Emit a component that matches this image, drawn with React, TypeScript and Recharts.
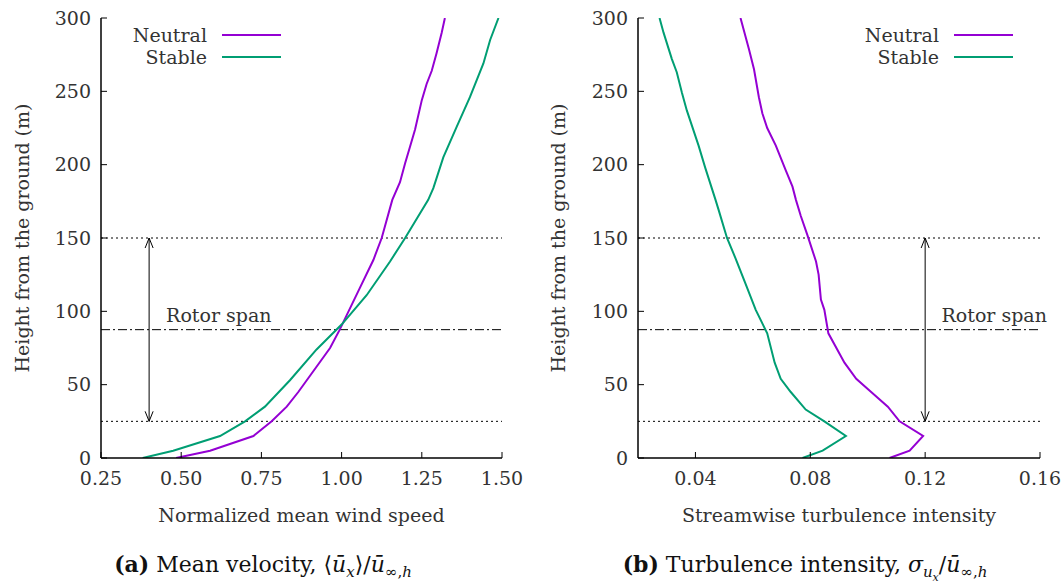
import React from 'react';
import { LineChart, Line, XAxis, YAxis, ReferenceLine, ReferenceDot } from 'recharts';

// mean velocity profiles (normalized by hub-height freestream)
const neutralMeanZ = [0, 5, 15, 25, 35, 45, 75, 87, 116, 135, 150, 176, 188, 201, 212, 224, 244, 255, 264, 276, 290, 300];
const neutralMeanU = [0.484, 0.59, 0.725, 0.782, 0.829, 0.865, 0.964, 0.993, 1.057, 1.099, 1.125, 1.158, 1.182, 1.198, 1.213, 1.229, 1.25, 1.265, 1.281, 1.296, 1.312, 1.322];
const stableMeanZ = [0, 5, 15, 25, 35, 53, 74, 91, 111, 134, 150, 176, 184, 205, 226, 246, 269, 285, 300];
const stableMeanU = [0.38, 0.475, 0.621, 0.699, 0.761, 0.839, 0.922, 1.0, 1.078, 1.151, 1.198, 1.27, 1.286, 1.317, 1.359, 1.4, 1.442, 1.463, 1.489];

// streamwise turbulence intensity profiles
const neutralTiZ = [0, 5, 15, 25, 35, 45, 54, 65, 85, 101, 108, 125, 134, 152, 165, 176, 185, 196, 213, 225, 235, 246, 265, 279, 300];
const neutralTi = [0.1076, 0.1146, 0.1193, 0.1111, 0.107, 0.1012, 0.096, 0.0919, 0.0863, 0.0849, 0.0837, 0.0829, 0.082, 0.079, 0.0767, 0.075, 0.0738, 0.0715, 0.068, 0.065, 0.0633, 0.0621, 0.0604, 0.0586, 0.0557];
const stableTiZ = [0, 5, 15, 25, 33, 45, 54, 65, 85, 101, 119, 136, 150, 169, 176, 198, 213, 237, 249, 263, 272, 290, 300];
const stableTi = [0.0773, 0.0843, 0.0924, 0.0849, 0.0784, 0.0732, 0.0697, 0.0676, 0.065, 0.061, 0.0574, 0.054, 0.051, 0.0481, 0.047, 0.0434, 0.0411, 0.037, 0.0353, 0.0335, 0.0318, 0.0289, 0.0275];

const heightTicks = [0, 50, 100, 150, 200, 250, 300];
const speedTicks = [0.25, 0.5, 0.75, 1.0, 1.25, 1.5];
const tiTicks = [0.04, 0.08, 0.12, 0.16];
const seriesNames = ['Neutral', 'Stable'];

const rotorTop = 150;
const rotorBottom = 25;
const hubHeight = 87.5;
const rotorLabelZ = 97.5;

const NEUTRAL = '#9400d3';
const STABLE = '#009e73';
const FONT = '"DejaVu Serif", "Liberation Serif", serif';
const TEXT = '#333';

function toRows(xs: number[], zs: number[]) {
  return xs.map((x, i) => ({ x, z: zs[i] }));
}

// vertical double-headed arrow spanning the rotor
function ArrowShape(props: any) {
  const { x1, y1, x2, y2 } = props;
  const top = Math.min(y1, y2);
  const bot = Math.max(y1, y2);
  const x = x1;
  return (
    <g stroke="#000" strokeWidth={1} fill="none">
      <line x1={x} y1={top} x2={x2} y2={bot} />
      <polyline points={`${x - 4},${top + 10} ${x},${top} ${x + 4},${top + 10}`} />
      <polyline points={`${x - 4},${bot - 10} ${x},${bot} ${x + 4},${bot - 10}`} />
    </g>
  );
}

function LegendBox({ left }: { left: number }) {
  const colors = [NEUTRAL, STABLE];
  return (
    <div style={{ position: 'absolute', top: 24, left, fontFamily: FONT, fontSize: 19, color: TEXT }}>
      {seriesNames.map((name, i) => (
        <div key={name} style={{ display: 'flex', alignItems: 'center', height: 22 }}>
          <span style={{ width: 100, textAlign: 'right' }}>{name}</span>
          <span style={{ display: 'inline-block', width: 59, height: 2, background: colors[i], marginLeft: 15 }} />
        </div>
      ))}
    </div>
  );
}

const yTitle = (x: number) => (p: any) => {
  const cy = p.viewBox.y + p.viewBox.height / 2;
  return (
    <text x={x} y={cy} transform={`rotate(-90 ${x} ${cy})`} textAnchor="middle" dominantBaseline="central"
      fill={TEXT} fontSize={19} fontFamily={FONT}>
      Height from the ground (m)
    </text>
  );
};

type PanelProps = {
  width: number;
  margin: { top: number; right: number; left: number; bottom: number };
  domain: [number, number];
  ticks: number[];
  xTitle: string;
  yTitleX: number;
  neutral: { x: number; z: number }[];
  stable: { x: number; z: number }[];
  arrowX: number;
  labelX: number;
  fmt: (v: number) => string;
};

function Panel(p: PanelProps) {
  const axisLine = { stroke: '#000', strokeWidth: 1.5 };
  const tickStyle = { fill: TEXT, fontSize: 19, fontFamily: FONT };
  return (
    <LineChart width={p.width} height={540} margin={p.margin}>
      <XAxis xAxisId="b" type="number" dataKey="x" domain={p.domain} ticks={p.ticks} allowDataOverflow
        height={82} tickSize={-6} tickMargin={20} axisLine={axisLine} tickLine={{ stroke: '#000' }}
        tick={tickStyle} tickFormatter={p.fmt}
        label={{ value: p.xTitle, position: 'insideBottom', offset: 18, fill: TEXT, fontSize: 19, fontFamily: FONT }} />
      <XAxis xAxisId="t" orientation="top" type="number" dataKey="x" domain={p.domain} ticks={p.ticks}
        allowDataOverflow height={0} tickSize={-6} axisLine={axisLine} tickLine={{ stroke: '#000' }} tick={() => <g />} />
      <YAxis yAxisId="l" type="number" dataKey="z" domain={[0, 300]} ticks={heightTicks} allowDataOverflow
        width={60} tickSize={-6} tickMargin={16} axisLine={axisLine} tickLine={{ stroke: '#000' }} tick={tickStyle}
        label={{ content: yTitle(p.yTitleX) }} />
      <YAxis yAxisId="r" orientation="right" type="number" dataKey="z" domain={[0, 300]} ticks={heightTicks}
        allowDataOverflow width={0} tickSize={-6} axisLine={axisLine} tickLine={{ stroke: '#000' }} tick={() => <g />} />
      <ReferenceLine xAxisId="b" yAxisId="l" y={rotorTop} stroke="#000" strokeWidth={1} strokeDasharray="2 3" />
      <ReferenceLine xAxisId="b" yAxisId="l" y={rotorBottom} stroke="#000" strokeWidth={1} strokeDasharray="2 3" />
      <ReferenceLine xAxisId="b" yAxisId="l" y={hubHeight} stroke="#000" strokeWidth={1} strokeDasharray="9 3 2 3" />
      <ReferenceLine xAxisId="b" yAxisId="l" segment={[{ x: p.arrowX, y: rotorBottom }, { x: p.arrowX, y: rotorTop }]}
        shape={ArrowShape} />
      <ReferenceDot xAxisId="b" yAxisId="l" x={p.labelX} y={rotorLabelZ} r={0} stroke="none" fill="none"
        label={{ value: 'Rotor span', position: 'right', offset: 0, fill: TEXT, fontSize: 19, fontFamily: FONT }} />
      <Line xAxisId="b" yAxisId="l" data={p.neutral} dataKey="z" name={seriesNames[0]} type="linear" stroke={NEUTRAL}
        strokeWidth={2} dot={false} isAnimationActive={false} />
      <Line xAxisId="b" yAxisId="l" data={p.stable} dataKey="z" name={seriesNames[1]} type="linear" stroke={STABLE}
        strokeWidth={2} dot={false} isAnimationActive={false} />
    </LineChart>
  );
}

export default function App() {
  const cap: React.CSSProperties = {
    position: 'absolute', top: 551, fontFamily: FONT, fontSize: 22, color: '#111', whiteSpace: 'nowrap',
    transform: 'translateX(-50%)',
  };
  return (
    <div style={{ position: 'absolute', left: 0, top: 0, width: 1061, height: 585, background: '#fff', fontFamily: FONT }}>
      <div style={{ position: 'absolute', left: 0, top: 0 }}>
        <Panel width={530} margin={{ top: 18, right: 28, left: 41, bottom: 0 }} domain={[0.25, 1.5]} ticks={speedTicks}
          xTitle="Normalized mean wind speed" yTitleX={22}
          neutral={toRows(neutralMeanU, neutralMeanZ)} stable={toRows(stableMeanU, stableMeanZ)}
          arrowX={0.4} labelX={0.453} fmt={(v) => v.toFixed(2)} />
        <LegendBox left={107} />
      </div>
      <div style={{ position: 'absolute', left: 530, top: 0 }}>
        <Panel width={531} margin={{ top: 18, right: 21, left: 48, bottom: 0 }} domain={[0.02, 0.16]} ticks={tiTicks}
          xTitle="Streamwise turbulence intensity" yTitleX={28}
          neutral={toRows(neutralTi, neutralTiZ)} stable={toRows(stableTi, stableTiZ)}
          arrowX={0.12} labelX={0.1257} fmt={(v) => v.toFixed(2)} />
        <LegendBox left={309} />
      </div>
      <div style={{ ...cap, left: 263 }}>
        <b>(a)</b> Mean velocity, ⟨<i>ū</i><sub style={{ fontSize: 15 }}><i>x</i></sub>⟩/<i>ū</i>
        <sub style={{ fontSize: 15 }}>∞,<i>h</i></sub>
      </div>
      <div style={{ ...cap, left: 805 }}>
        <b>(b)</b> Turbulence intensity, <i>σ</i><sub style={{ fontSize: 15 }}><i>u<sub style={{ fontSize: 11 }}>x</sub></i></sub>/<i>ū</i>
        <sub style={{ fontSize: 15 }}>∞,<i>h</i></sub>
      </div>
    </div>
  );
}
